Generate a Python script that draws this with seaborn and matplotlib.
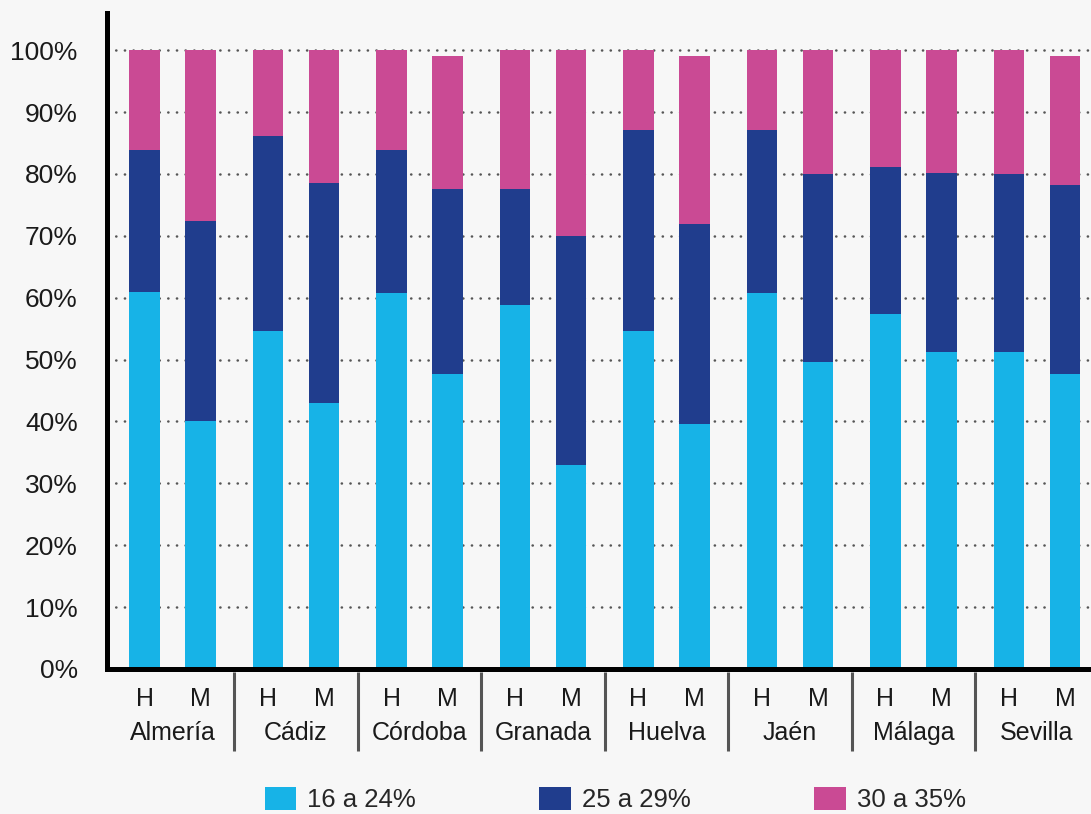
import matplotlib
matplotlib.use("Agg")
import matplotlib.pyplot as plt
import matplotlib.patches as mpatches
import pandas as pd
import seaborn as sns

# Datos: % por tramo de edad, provincia y sexo (H, M)
provinces = ['Almería', 'Cádiz', 'Córdoba', 'Granada', 'Huelva', 'Jaén', 'Málaga', 'Sevilla']
sexes = ['H', 'M']
band_labels = ['16 a 24%', '25 a 29%', '30 a 35%']
band_16_24 = [60.9, 40.1, 54.6, 43.0, 60.7, 47.7, 58.8, 33.0,
              54.6, 39.6, 60.7, 49.6, 57.4, 51.2, 51.2, 47.7]
band_25_29 = [22.9, 32.3, 31.6, 35.6, 23.1, 29.8, 18.7, 37.0,
              32.5, 32.3, 26.4, 30.4, 23.7, 28.9, 28.8, 30.5]
band_30_35 = [16.2, 27.6, 13.8, 21.4, 16.2, 21.5, 22.5, 30.0,
              12.9, 27.1, 12.9, 20.0, 18.9, 19.9, 20.0, 20.8]

colors = ['#17b3e7', '#203d8d', '#ca4a94']
bg = '#f7f7f7'

sns.set_theme(style="white")
plt.rcParams['font.family'] = ['Liberation Sans', 'DejaVu Sans']

# Build the table
group_pitch = 2.205
rows = []
i = 0
for g, prov in enumerate(provinces):
    for s, sex in enumerate(sexes):
        rows.append({'province': prov, 'sex': sex, 'pos': g * group_pitch + s,
                     'a': band_16_24[i], 'b': band_25_29[i], 'c': band_30_35[i]})
        i += 1
df = pd.DataFrame(rows)
df['top1'] = df['a']
df['top2'] = df['a'] + df['b']
df['top3'] = df['a'] + df['b'] + df['c']

fig = plt.figure(figsize=(10.91, 8.14), dpi=100, facecolor=bg)
ax = fig.add_axes([107 / 1091, 145 / 814, 1 - 107 / 1091, 656 / 814])
ax.set_facecolor(bg)

# Stacked bars: draw cumulative totals from the top down
for col, color in [('top3', colors[2]), ('top2', colors[1]), ('top1', colors[0])]:
    sns.barplot(data=df, x='pos', y=col, color=color, native_scale=True,
                width=0.55, errorbar=None, saturation=1, ax=ax, zorder=2,
                linewidth=0, edgecolor='none')

ax.set_xlim(-0.67, 16.9)
ax.set_ylim(0, 106)
ax.set_xlabel('')
ax.set_ylabel('')

yt = list(range(0, 101, 10))
ax.set_yticks(yt)
ax.set_yticklabels([f'{v}%' for v in yt])
ax.set_xticks(df['pos'])
ax.set_xticklabels(df['sex'])
ax.tick_params(axis='y', length=0, labelsize=19, pad=21, colors='#1a1a1a')
ax.tick_params(axis='x', length=0, labelsize=18, pad=13, colors='#1a1a1a')

ax.yaxis.grid(True, color='#555555', linewidth=1.8, linestyle=(0, (0.1, 3.37)),
              dash_capstyle='round', zorder=0)
ax.xaxis.grid(False)
ax.set_axisbelow(True)

for side in ['top', 'right']:
    ax.spines[side].set_visible(False)
for side in ['left', 'bottom']:
    ax.spines[side].set_color('black')
    ax.spines[side].set_linewidth(3.6)
    ax.spines[side].set_zorder(5)

# Province labels and separators
trans = ax.get_xaxis_transform()
for g, prov in enumerate(provinces):
    center = g * group_pitch + 0.5
    ax.text(center, -0.097, prov, transform=trans, ha='center', va='center',
            fontsize=18, color='#1a1a1a')
    if g > 0:
        sep = g * group_pitch - (group_pitch - 1) / 2
        ax.plot([sep, sep], [-0.005, -0.125], transform=trans, color='#555555',
                lw=2.2, clip_on=False, solid_capstyle='butt')

handles = [mpatches.Patch(color=c, label=l, linewidth=0) for c, l in zip(colors, band_labels)]
fig.legend(handles=handles, loc='center', bbox_to_anchor=(0.564, 0.018), ncol=3,
           frameon=False, fontsize=18.5, handlelength=1.22, handleheight=1.0,
           handletextpad=0.44, columnspacing=4.8)

fig.savefig('out.png', dpi=100, facecolor=bg)
